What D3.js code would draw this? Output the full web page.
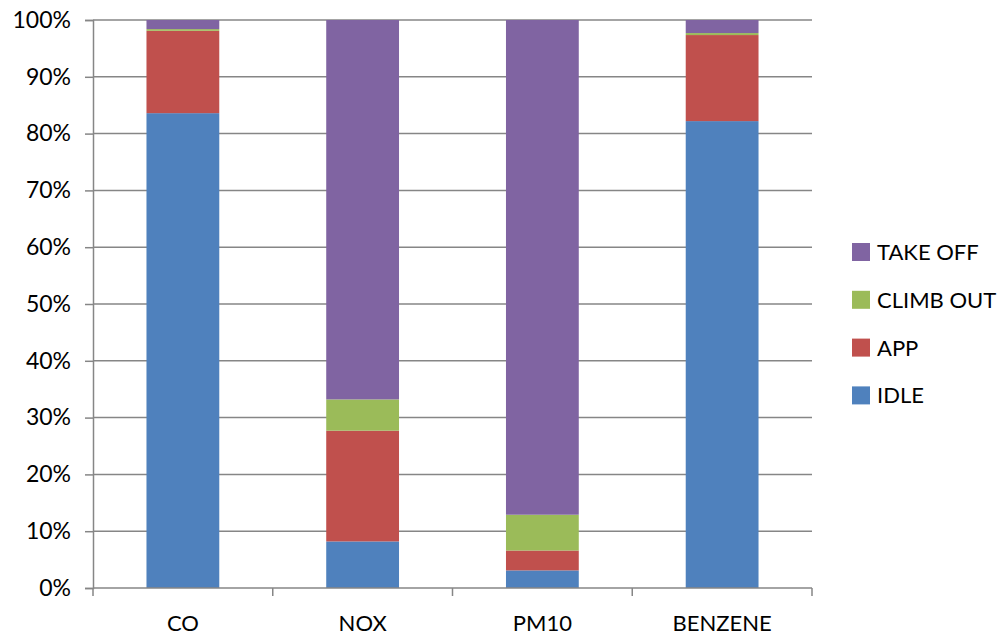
<!DOCTYPE html>
<html>
<head>
<meta charset="utf-8">
<script src="https://cdn.jsdelivr.net/npm/d3@7"></script>
<style>
  body { margin: 0; background: #fff; }
  svg { display: block; }
  text { font-family: Lato, "Open Sans", sans-serif; fill: #000; }
</style>
</head>
<body>
<svg id="chart" width="997" height="635"></svg>
<script>
// Share of emissions per LTO phase (percent)
const categories = ["CO", "NOX", "PM10", "BENZENE"];
const phases = ["IDLE", "APP", "CLIMB OUT", "TAKE OFF"];
const idle     = [83.6, 8.2, 3.1, 82.2];
const app      = [14.5, 19.5, 3.5, 15.15];
const climbOut = [0.3, 5.5, 6.3, 0.35];
const takeOff  = [1.6, 66.8, 87.1, 2.3];
const yTicks = [0, 10, 20, 30, 40, 50, 60, 70, 80, 90, 100];
const colors = ["#4F81BD", "#C0504D", "#9BBB59", "#8064A2"];

const rows = categories.map((c, i) => ({
  cat: c,
  "IDLE": idle[i],
  "APP": app[i],
  "CLIMB OUT": climbOut[i],
  "TAKE OFF": takeOff[i]
}));

const svg = d3.select("#chart");
const plotLeft = 93, plotRight = 812, plotTop = 20, plotBottom = 588;

const x = d3.scaleBand().domain(categories).range([plotLeft, plotRight]).paddingInner(0.595).paddingOuter(0.2975);
const y = d3.scaleLinear().domain([0, 100]).range([plotBottom, plotTop]);
const color = d3.scaleOrdinal().domain(phases).range(colors);

const gridColor = "#868686";

// horizontal gridlines
svg.append("g").selectAll("line").data(yTicks.filter(t => t > 0)).join("line")
  .attr("x1", plotLeft).attr("x2", plotRight)
  .attr("y1", d => y(d)).attr("y2", d => y(d))
  .attr("stroke", gridColor).attr("stroke-width", 1.5);

// stacked bars
const stacked = d3.stack().keys(phases)(rows);
svg.append("g").selectAll("g").data(stacked).join("g")
  .attr("fill", d => color(d.key))
  .selectAll("rect").data(d => d).join("rect")
  .attr("x", d => x(d.data.cat))
  .attr("width", x.bandwidth())
  .attr("y", d => y(d[1]))
  .attr("height", d => y(d[0]) - y(d[1]));

// y axis
const yAxis = svg.append("g").attr("transform", `translate(${plotLeft},0)`)
  .call(d3.axisLeft(y).tickValues(yTicks).tickFormat(d => d + "%").tickSize(8).tickPadding(14));
yAxis.select(".domain").attr("stroke", gridColor).attr("stroke-width", 1.5);
yAxis.selectAll(".tick line").attr("stroke", gridColor).attr("stroke-width", 1.5);
yAxis.selectAll(".tick text").style("font-size", "23px").style("font-family", "Lato, sans-serif");

// x axis with boundary ticks between categories
const xAxisG = svg.append("g");
xAxisG.append("line").attr("x1", plotLeft).attr("x2", plotRight).attr("y1", plotBottom).attr("y2", plotBottom)
  .attr("stroke", gridColor).attr("stroke-width", 1.5);
const bounds = d3.range(categories.length + 1).map(i => plotLeft + i * (plotRight - plotLeft) / categories.length);
xAxisG.selectAll("line.b").data(bounds).join("line").attr("class", "b")
  .attr("x1", d => d).attr("x2", d => d).attr("y1", plotBottom).attr("y2", plotBottom + 8)
  .attr("stroke", gridColor).attr("stroke-width", 1.5);
xAxisG.selectAll("text").data(categories).join("text")
  .attr("x", d => x(d) + x.bandwidth() / 2)
  .attr("y", 631)
  .attr("text-anchor", "middle")
  .style("font-size", "22px")
  .text(d => d);

// legend
const legendOrder = phases.slice().reverse();
const lg = svg.append("g").selectAll("g").data(legendOrder).join("g")
  .attr("transform", (d, i) => `translate(852,${252 + i * 47.8})`);
lg.append("rect").attr("x", 0).attr("y", -9).attr("width", 18).attr("height", 18).attr("fill", d => color(d));
lg.append("text").attr("x", 25).attr("y", 8).style("font-size", "22px").text(d => d);
</script>
</body>
</html>
